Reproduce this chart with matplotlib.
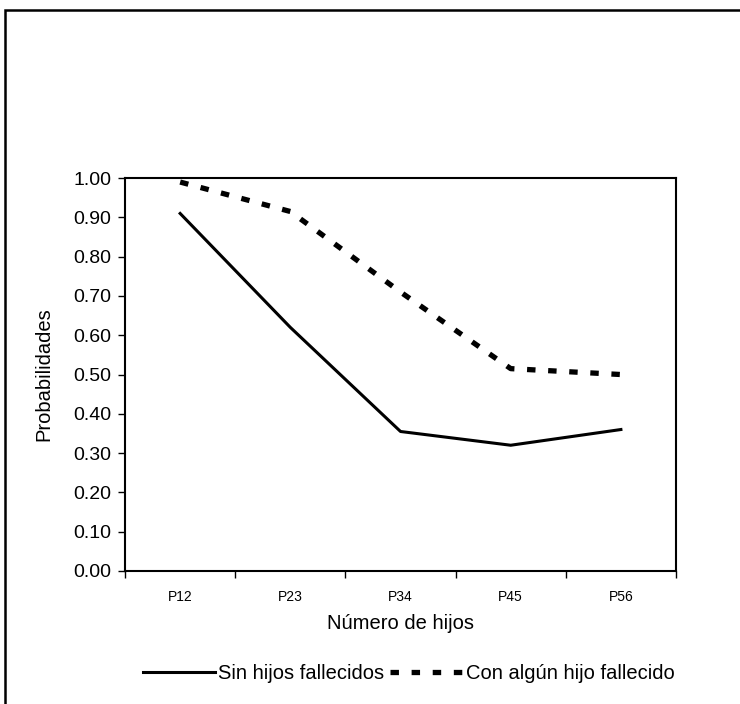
import numpy as np
import matplotlib.pyplot as plt
from matplotlib.patches import Rectangle

plt.rcParams['font.family'] = ['Liberation Sans', 'DejaVu Sans']

# Datos
categorias = ['P12', 'P23', 'P34', 'P45', 'P56']
sin_hijos = [0.91, 0.62, 0.355, 0.32, 0.36]
con_hijo = [0.99, 0.915, 0.71, 0.515, 0.50]
yticks = [0.0, 0.1, 0.2, 0.3, 0.4, 0.5, 0.6, 0.7, 0.8, 0.9, 1.0]

fig = plt.figure(figsize=(7.4, 7.04), dpi=100)
ax = fig.add_axes([0.169, 0.189, 0.7445, 0.558])

x = np.arange(len(categorias))
ax.plot(x, sin_hijos, color='black', lw=2.2, label='Sin hijos fallecidos')
ax.plot(x, con_hijo, color='black', lw=3.8, linestyle=(0, (1.6, 2.4)),
        dash_capstyle='butt', label='Con algún hijo fallecido')

ax.set_xlim(-0.5, len(categorias) - 0.5)
ax.set_ylim(0, 1)
ax.set_yticks(yticks)
ax.set_yticklabels(['%.2f' % v for v in yticks], fontsize=14)
ax.set_xticks(x)
ax.set_xticklabels(categorias, fontsize=10)
ax.set_xticks(np.arange(-0.5, len(categorias)), minor=True)
ax.tick_params(axis='x', which='major', length=0, pad=14)
ax.tick_params(axis='x', which='minor', length=5, width=1, direction='out')
ax.tick_params(axis='y', length=5, width=1, direction='out', pad=5)
for s in ax.spines.values():
    s.set_linewidth(1.5)

ax.set_ylabel('Probabilidades', fontsize=14.5, labelpad=14)
ax.set_xlabel('Número de hijos', fontsize=14.5, labelpad=7)

fig.legend(loc='center', bbox_to_anchor=(0.552, 0.043), ncol=2, frameon=False,
           fontsize=14.5, handlelength=3.6, handletextpad=0.15, columnspacing=0.3)

# marco exterior
fig.patches.append(Rectangle((5 / 740, -0.01), 1.0, 1 - 10 / 704 + 0.01,
                             transform=fig.transFigure, fill=False,
                             edgecolor='black', lw=1.8))

fig.savefig('out.png', dpi=100)
